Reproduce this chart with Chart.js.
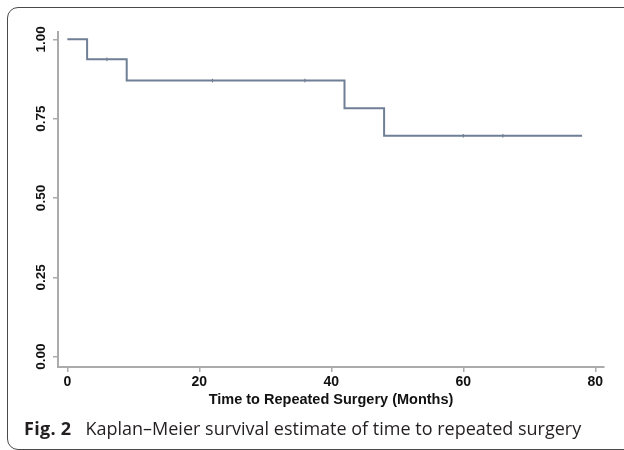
<!DOCTYPE html>
<html>
<head>
<meta charset="utf-8">
<script src="https://cdn.jsdelivr.net/npm/chart.js@4"></script>
<style>
  html, body { margin: 0; padding: 0; background: #fff; width: 624px; height: 450px; overflow: hidden; }
  #frame { position: absolute; left: 7px; top: 7px; width: 660px; height: 441px; border: 1.5px solid #4a4a4a; border-radius: 11px; }
  #wrap { position: absolute; left: 0; top: 0; width: 624px; height: 450px; }
  #caption { position: absolute; left: 24px; top: 416px; font-family: "Open Sans", sans-serif; font-size: 18px; color: #231f20; white-space: nowrap; }
  #caption b { font-weight: 700; margin-right: 14px; letter-spacing: 0.3px; }
</style>
</head>
<body>
<div id="frame"></div>
<div id="wrap"><canvas id="kmChart" width="624" height="450"></canvas></div>
<div id="caption"><b>Fig. 2</b>Kaplan–Meier survival estimate of time to repeated surgery</div>

<script>
// step points of the survival curve (months, survival probability)
const kmTimes = [0, 3, 9, 42, 48, 78];
const kmSurvival = [1.0, 0.937, 0.870, 0.783, 0.696, 0.696];

// censored observations (small tick marks on the curve)
const censorTimes = [6, 22, 36, 60, 66];
const censorSurvival = [0.937, 0.870, 0.870, 0.696, 0.696];

const xTicks = [0, 20, 40, 60, 80];
const yTicks = [0, 0.25, 0.5, 0.75, 1];
const yTickLabels = ["0.00", "0.25", "0.50", "0.75", "1.00"];

const axisTitle = "Time to Repeated Surgery (Months)";

const lineColor = "#6f7f96";
const axisColor = "#ababab";
const fontFamily = "'Liberation Sans', Arial, sans-serif";

// y tick labels are drawn rotated, like the original Stata graph
const rotatedYLabels = {
  id: "rotatedYLabels",
  afterDraw(chart) {
    const ctx = chart.ctx;
    const ys = chart.scales.y;
    ctx.save();
    ctx.font = "bold 13.5px " + fontFamily;
    ctx.fillStyle = "#111";
    ctx.textAlign = "center";
    ctx.textBaseline = "middle";
    yTicks.forEach((v, i) => {
      const py = ys.getPixelForValue(v);
      ctx.save();
      ctx.translate(41, py);
      ctx.rotate(-Math.PI / 2);
      ctx.fillText(yTickLabels[i], 0, 0);
      ctx.restore();
    });
    ctx.restore();
  }
};

const ctx = document.getElementById("kmChart").getContext("2d");

new Chart(ctx, {
  type: "scatter",
  data: {
    datasets: [
      {
        label: "Survival",
        data: kmTimes.map((t, i) => ({ x: t, y: kmSurvival[i] })),
        showLine: true,
        stepped: "before",
        borderColor: lineColor,
        borderWidth: 2,
        pointRadius: 0,
        fill: false
      },
      {
        label: "Censored",
        data: censorTimes.map((t, i) => ({ x: t, y: censorSurvival[i] })),
        showLine: false,
        pointStyle: "line",
        rotation: 90,
        pointRadius: 1.8,
        borderColor: "#5c6a7e",
        borderWidth: 1
      }
    ]
  },
  options: {
    responsive: false,
    animation: false,
    layout: {
      padding: { left: 0, top: 32, right: 20, bottom: 33 }
    },
    plugins: {
      legend: { display: false },
      tooltip: { enabled: false }
    },
    scales: {
      x: {
        type: "linear",
        min: -1.41,
        max: 81.32,
        afterBuildTicks: (scale) => { scale.ticks = xTicks.map(v => ({ value: v })); },
        afterFit: (scale) => { scale.height = 50; },
        ticks: {
          color: "#111",
          font: { family: fontFamily, size: 14, weight: "bold" },
          padding: 2,
          maxRotation: 0,
          autoSkip: false
        },
        grid: { drawOnChartArea: false, drawTicks: true, tickLength: 5, color: axisColor, lineWidth: 1.5 },
        border: { display: true, color: axisColor, width: 2 },
        title: {
          display: true,
          text: axisTitle,
          color: "#111",
          font: { family: fontFamily, size: 14.5, weight: "bold" },
          padding: { top: 0, bottom: 8 }
        }
      },
      y: {
        type: "linear",
        min: -0.0325,
        max: 1.023,
        afterBuildTicks: (scale) => { scale.ticks = yTicks.map(v => ({ value: v })); },
        afterFit: (scale) => { scale.width = 58; },
        ticks: { display: false },
        grid: { drawOnChartArea: false, drawTicks: true, tickLength: 5, color: axisColor, lineWidth: 1.5 },
        border: { display: true, color: axisColor, width: 2 }
      }
    }
  },
  plugins: [rotatedYLabels]
});
</script>
</body>
</html>
